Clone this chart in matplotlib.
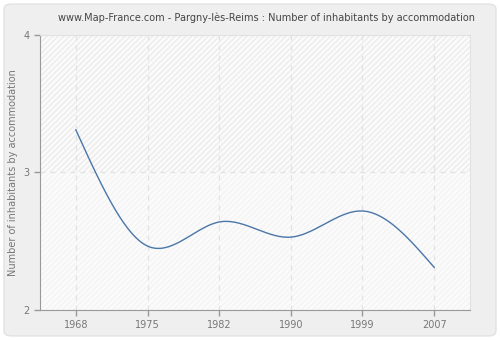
import numpy as np
import matplotlib
matplotlib.use("Agg")
import matplotlib.pyplot as plt
from matplotlib.patches import FancyBboxPatch, Rectangle

years = ["1968", "1975", "1982", "1990", "1999", "2007"]
values = [3.31, 2.465, 2.64, 2.53, 2.72, 2.31]
yticks = [2, 3, 4]
title = "www.Map-France.com - Pargny-lès-Reims : Number of inhabitants by accommodation"
ylabel = "Number of inhabitants by accommodation"


def natural_spline(x, y, n=400):
    x = np.asarray(x, float); y = np.asarray(y, float)
    k = len(x)
    h = np.diff(x)
    A = np.zeros((k, k)); b = np.zeros(k)
    A[0, 0] = 1; A[-1, -1] = 1
    for i in range(1, k - 1):
        A[i, i - 1] = h[i - 1]
        A[i, i] = 2 * (h[i - 1] + h[i])
        A[i, i + 1] = h[i]
        b[i] = 3 * ((y[i + 1] - y[i]) / h[i] - (y[i] - y[i - 1]) / h[i - 1])
    c = np.linalg.solve(A, b)
    xs = np.linspace(x[0], x[-1], n)
    ys = np.empty_like(xs)
    for j, xv in enumerate(xs):
        i = min(np.searchsorted(x, xv, side="right") - 1, k - 2)
        d = xv - x[i]
        bi = (y[i + 1] - y[i]) / h[i] - h[i] * (2 * c[i] + c[i + 1]) / 3
        di = (c[i + 1] - c[i]) / (3 * h[i])
        ys[j] = y[i] + bi * d + c[i] * d ** 2 + di * d ** 3
    return xs, ys


fig = plt.figure(figsize=(5, 3.4), dpi=100)
fig.patch.set_facecolor("#ffffff")
fig.patches.append(FancyBboxPatch((0.008, 0.012), 0.984, 0.976,
                                  boxstyle="round,pad=0,rounding_size=0.015",
                                  transform=fig.transFigure, facecolor="#efefef",
                                  edgecolor="#e2e2e2", linewidth=1, zorder=-10))

ax = fig.add_axes([0.08, 0.0882, 0.86, 0.809])
ax.set_zorder(5)
ax.set_facecolor("#fbfbfb")
ax.set_xlim(-0.5, len(years) - 0.5)
ax.set_ylim(2, 4)

# hatched background
ax.add_patch(Rectangle((-0.5, 3), len(years), 1, facecolor="none", edgecolor="#ececec",
                       hatch="//////", linewidth=0, zorder=0))
ax.add_patch(Rectangle((-0.5, 2), len(years), 1, facecolor="none", edgecolor="#f4f4f4",
                       hatch="//////", linewidth=0, zorder=0))

x = np.arange(len(years))
xs, ys = natural_spline(x, values)
ax.plot(xs, ys, color="#4a76a8", linewidth=1, zorder=3)

ax.set_xticks(x)
ax.set_xticklabels(years)
ax.set_yticks(yticks)
ax.set_yticklabels([str(v) for v in yticks])
ax.grid(True, color="#e2e2e2", linestyle=(0, (4, 4)), linewidth=0.9)
ax.set_axisbelow(True)

for s in ["top", "right"]:
    ax.spines[s].set_color("#e2e2e2")
for s in ["left", "bottom"]:
    ax.spines[s].set_color("#999999")
ax.tick_params(colors="#999999", labelcolor="#777777", labelsize=7, length=4, width=1)

ax.set_ylabel(ylabel, color="#777777", fontsize=7)
ax.yaxis.set_label_coords(-0.05, 0.5)
fig.text(0.534, 0.948, title, ha="center", va="center", fontsize=7, color="#444444")

fig.savefig("out.png", dpi=100, facecolor=fig.get_facecolor())
